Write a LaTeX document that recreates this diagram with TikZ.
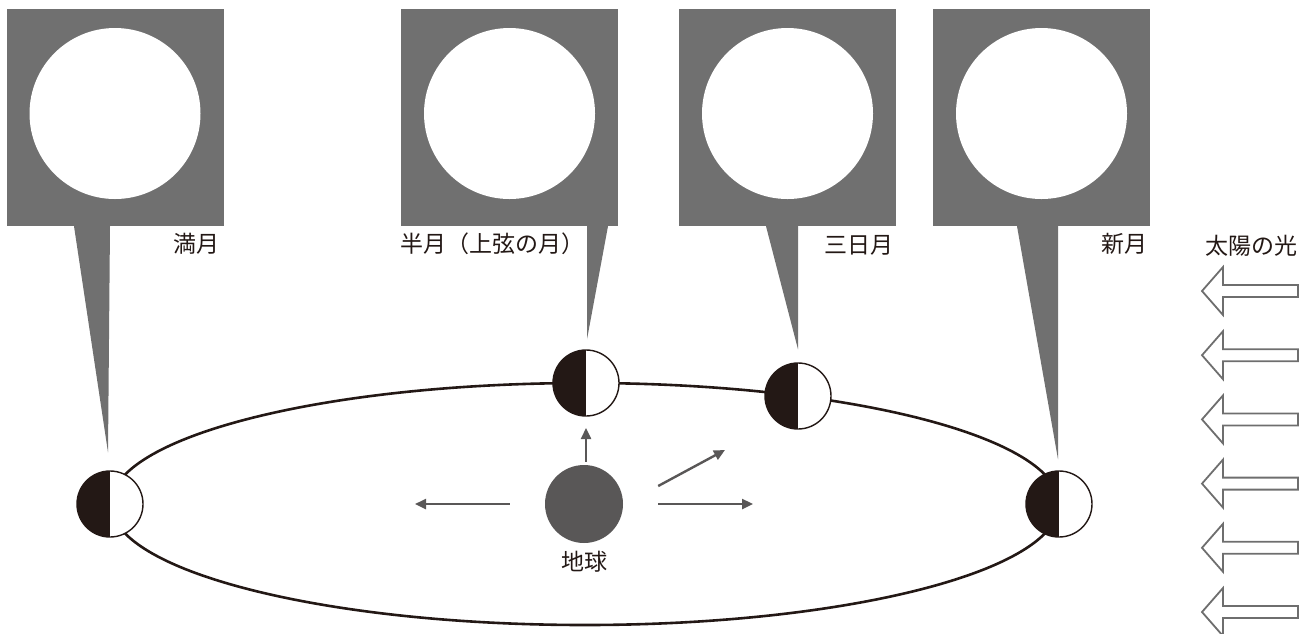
\documentclass[tikz,border=0pt]{standalone}
\usepackage{fontspec}
\setmainfont{Noto Sans CJK JP}
\usetikzlibrary{arrows.meta}
\definecolor{panelgray}{RGB}{112,112,112}
\definecolor{ink}{RGB}{35,24,21}
\definecolor{earthgray}{RGB}{89,87,87}
\definecolor{raygray}{RGB}{110,110,110}
\begin{document}
\begin{tikzpicture}[x=1pt,y=1pt]
	\tikzstyle{every node}+=[inner sep=0pt]
	\tikzstyle{panel}=[rectangle,fill=panelgray,minimum size=217pt,
		path picture={\fill[white] ([yshift=4pt]path picture bounding box.center) circle (85.5pt);}]
	\tikzstyle{moon}=[circle,draw=ink,line width=1.4pt,fill=white,minimum size=66pt,
		path picture={\fill[ink] (path picture bounding box.north west) rectangle (path picture bounding box.south);}]
	\tikzstyle{tag}=[font=\fontsize{23pt}{27pt}\selectfont,text=ink]
	\tikzstyle{ray}=[earthgray,line width=2.4pt,-{Triangle[length=11pt,width=10pt]}]
	\tikzstyle{sunray}=[raygray,line width=1.8pt,line join=miter]
	\useasboundingbox (0,0) rectangle (1312,-633);
	% moon panels
	\node[panel] (full) at (115,-117.5) {};
	\node[panel] (half) at (509.5,-117.5) {};
	\node[panel] (crescent) at (787.5,-117.5) {};
	\node[panel] (new) at (1041.5,-117.5) {};
	\node[tag,anchor=east] (lfull) at ([xshift=-4pt,yshift=-18pt]full.south east) {満月};
	\node[tag,anchor=west] (lhalf) at ([xshift=-1pt,yshift=-18pt]half.south west) {半月（上弦の月）};
	\node[tag,anchor=east] (lcres) at ([xshift=-3pt,yshift=-19pt]crescent.south east) {三日月};
	\node[tag,anchor=east] (lnew) at ([xshift=-3pt,yshift=-18pt]new.south east) {新月};
	% orbit
	\draw[ink,line width=2.6pt] (585,-504) ellipse [x radius=474, y radius=121];
	\node[moon] (mfull) at (110,-504) {};
	\node[moon] (mhalf) at (586,-383) {};
	\node[moon] (mcres) at (798,-396) {};
	\node[moon] (mnew) at (1059,-504) {};
	% pointers from panels down to the orbit
	\coordinate (tfull) at ([xshift=-2pt,yshift=18pt]mfull.north);
	\coordinate (thalf) at ([xshift=1pt,yshift=10pt]mhalf.north);
	\coordinate (tcres) at ([yshift=13pt]mcres.north);
	\coordinate (tnew) at ([xshift=-1pt,yshift=11pt]mnew.north);
	\fill[panelgray] ([xshift=-41pt]full.south) -- ([xshift=-5pt]full.south) -- (tfull) -- cycle;
	\fill[panelgray] ([xshift=77.5pt]half.south) -- ([xshift=98.5pt]half.south) -- (thalf) -- cycle;
	\fill[panelgray] ([xshift=-21.5pt]crescent.south) -- ([xshift=10.5pt]crescent.south) -- (tcres) -- cycle;
	\fill[panelgray] ([xshift=-24.5pt]new.south) -- ([xshift=16.5pt]new.south) -- (tnew) -- cycle;
	% earth
	\node[circle,fill=earthgray,minimum size=78pt] (earth) at (584,-504) {};
	\node[tag] (learth) at ([yshift=-19pt]earth.south) {地球};
	\coordinate (aup) at (586,-428);
	\coordinate (adiag) at (725,-450);
	\coordinate (aright) at (753,-504);
	\coordinate (aleft) at (415,-504);
	\draw[ray] ([xshift=2pt,yshift=3pt]earth.north) -- (aup);
	\draw[ray] ([xshift=35pt,yshift=18pt]earth.east) -- (adiag);
	\draw[ray] ([xshift=35pt]earth.east) -- (aright);
	\draw[ray] ([xshift=-35pt]earth.west) -- (aleft);
	% sunlight
	\node[tag] (sun) at (1251,-246) {太陽の光};
	\foreach \i in {0,...,5}
		\draw[sunray] (1202,{-291-64.2*\i}) -- ++(21,24) -- ++(0,-18) -- ++(75,0) -- ++(0,-12)
			-- ++(-75,0) -- ++(0,-18) -- cycle;
\end{tikzpicture}
\end{document}
